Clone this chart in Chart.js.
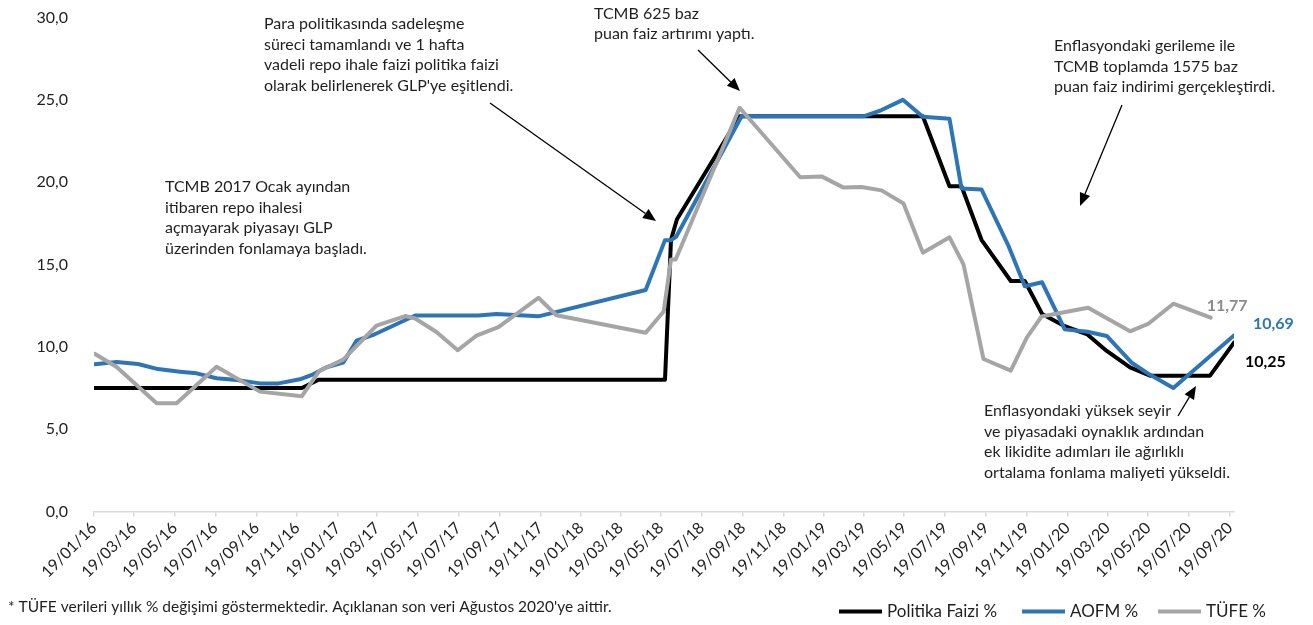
<!DOCTYPE html>
<html>
<head>
<meta charset="utf-8">
<script src="https://cdn.jsdelivr.net/npm/chart.js@4.4.1/dist/chart.umd.min.js"></script>
<style>
html,body{margin:0;padding:0;background:#fff;}
#wrap{width:1313px;height:625px;position:relative;}
</style>
</head>
<body>
<div id="wrap"><canvas id="c" width="1313" height="625"></canvas></div>
<script>
// ---- DATA ----
const tickLabels = ['19/01/16','19/03/16','19/05/16','19/07/16','19/09/16','19/11/16','19/01/17','19/03/17','19/05/17','19/07/17','19/09/17','19/11/17','19/01/18','19/03/18','19/05/18','19/07/18','19/09/18','19/11/18','19/01/19','19/03/19','19/05/19','19/07/19','19/09/19','19/11/19','19/01/20','19/03/20','19/05/20','19/07/20','19/09/20'];

const yTicks = [0, 5, 10, 15, 20, 25, 30];

const policyDates = ['2016-01-19','2016-11-26','2016-12-21','2018-05-25','2018-06-03','2018-06-12','2018-09-14','2019-06-16','2019-07-26','2019-08-13','2019-09-12','2019-10-26','2019-11-16','2019-12-12','2020-01-15','2020-02-18','2020-03-18','2020-04-22','2020-05-22','2020-08-20','2020-09-25'];
const policyValues = [7.5,7.5,8.0,8.0,16.5,17.75,24.0,24.0,19.75,19.75,16.5,14.0,14.0,12.0,11.25,10.75,9.75,8.75,8.25,8.25,10.25];

const aofmDates = ['2016-01-20','2016-02-22','2016-03-25','2016-04-24','2016-05-27','2016-06-21','2016-07-21','2016-08-20','2016-09-24','2016-10-22','2016-11-23','2016-12-13','2017-01-02','2017-01-27','2017-02-16','2017-03-13','2017-05-15','2017-08-18','2017-09-14','2017-11-16','2018-04-26','2018-05-25','2018-06-03','2018-06-11','2018-09-17','2019-03-19','2019-04-15','2019-05-17','2019-06-16','2019-07-26','2019-08-13','2019-09-12','2019-10-22','2019-11-16','2019-12-12','2020-01-15','2020-02-18','2020-03-18','2020-04-24','2020-05-22','2020-06-26','2020-09-25'];
const aofmValues = [8.94,9.08,8.96,8.65,8.49,8.39,8.09,7.98,7.78,7.78,8.03,8.33,8.76,9.04,10.37,10.72,11.9,11.9,12.0,11.85,13.45,16.48,16.48,16.7,24.0,24.0,24.38,25.0,23.97,23.85,19.62,19.56,16.18,13.68,13.92,11.06,10.92,10.66,9.05,8.3,7.5,10.69];

const tufeDates = ['2016-01-20','2016-02-22','2016-04-22','2016-05-22','2016-07-21','2016-09-24','2016-11-26','2016-12-22','2017-01-27','2017-03-18','2017-04-30','2017-05-15','2017-06-16','2017-07-18','2017-08-15','2017-09-17','2017-11-16','2017-12-13','2018-04-26','2018-05-23','2018-06-03','2018-06-10','2018-09-14','2018-12-14','2019-01-15','2019-02-17','2019-03-16','2019-04-15','2019-05-18','2019-06-16','2019-07-26','2019-08-16','2019-09-15','2019-10-26','2019-11-19','2019-12-11','2020-02-19','2020-04-22','2020-05-19','2020-06-26','2020-08-21'];
const tufeValues = [9.58,8.78,6.57,6.58,8.79,7.28,7.0,8.53,9.22,11.29,11.87,11.72,10.9,9.79,10.68,11.2,12.98,11.92,10.85,12.15,15.3,15.3,24.52,20.3,20.35,19.67,19.71,19.5,18.71,15.72,16.65,15.01,9.26,8.55,10.56,11.84,12.37,10.94,11.39,12.62,11.77];

const seriesNames = ['Politika Faizi %', 'AOFM %', 'TÜFE %'];
const seriesColors = ['#000000', '#2E75B6', '#A5A5A5'];

const footnote = "* TÜFE verileri yıllık % değişimi göstermektedir. Açıklanan son veri Ağustos 2020'ye aittir.";

const notes = [
  {lines:['Para politikasında sadeleşme','süreci tamamlandı ve 1 hafta','vadeli repo ihale faizi politika faizi',"olarak belirlenerek GLP'ye eşitlendi."], x:264, y:24, arrow:[490,103,656,221]},
  {lines:['TCMB 625 baz','puan faiz artırımı yaptı.'], x:594, y:13.5, arrow:[698,50,740,91]},
  {lines:['Enflasyondaki gerileme ile','TCMB toplamda 1575 baz','puan faiz indirimi gerçekleştirdi.'], x:1054, y:46, arrow:[1122,105,1080,206]},
  {lines:['TCMB 2017 Ocak ayından','itibaren repo ihalesi','açmayarak piyasayı GLP','üzerinden fonlamaya başladı.'], x:165, y:187, arrow:null},
  {lines:['Enflasyondaki yüksek seyir','ve piyasadaki oynaklık ardından','ek likidite adımları ile ağırlıklı','ortalama fonlama maliyeti yükseldi.'], x:984, y:411, arrow:[1178,416,1196,386]}
];

// ---- helpers ----
const BASE = Date.UTC(2016,0,19);
function dayOfIso(s){ const p=s.split('-').map(Number); return (Date.UTC(p[0],p[1]-1,p[2])-BASE)/86400000; }
function dayOfLabel(s){ const p=s.split('/').map(Number); return (Date.UTC(2000+p[2],p[1]-1,p[0])-BASE)/86400000; }
const tickDays = tickLabels.map(dayOfLabel);
function pts(dates, vals){ return dates.map((d,i)=>({x:dayOfIso(d), y:vals[i]})); }
const fmt = v => v.toFixed(2).replace('.', ',');

const FONT = 'Lato, "Open Sans", sans-serif';
const TXT = '#1f1f1f';

const overlay = {
  id:'overlay',
  afterDraw(chart){
    const ctx = chart.ctx;
    ctx.save();
    // annotations
    ctx.font = '16px ' + FONT;
    ctx.fillStyle = TXT;
    ctx.textBaseline = 'middle';
    ctx.textAlign = 'left';
    notes.forEach(n=>{
      n.lines.forEach((l,i)=>ctx.fillText(l, n.x, n.y + i*20.5));
      if(n.arrow){
        const [x1,y1,x2,y2] = n.arrow;
        const ang = Math.atan2(y2-y1, x2-x1);
        const hl = 13, hw = 5.5;
        const bx = x2 - hl*Math.cos(ang), by = y2 - hl*Math.sin(ang);
        ctx.strokeStyle = '#000'; ctx.lineWidth = 1.3;
        ctx.beginPath(); ctx.moveTo(x1,y1); ctx.lineTo(bx,by); ctx.stroke();
        ctx.fillStyle = '#000';
        ctx.beginPath();
        ctx.moveTo(x2,y2);
        ctx.lineTo(bx + hw*Math.sin(ang), by - hw*Math.cos(ang));
        ctx.lineTo(bx - hw*Math.sin(ang), by + hw*Math.cos(ang));
        ctx.closePath(); ctx.fill();
        ctx.fillStyle = TXT;
      }
    });
    // end value labels
    ctx.font = 'bold 16px ' + FONT;
    const offs = [[11,19],[19,-12],[-4,-12]];
    chart.data.datasets.forEach((ds,i)=>{
      const meta = chart.getDatasetMeta(i);
      const last = meta.data[meta.data.length-1];
      const v = ds.data[ds.data.length-1].y;
      ctx.fillStyle = i===0 ? '#000' : (i===1 ? '#2E75B6' : '#8C8C8C');
      ctx.fillText(fmt(v), last.x + offs[i][0], last.y + offs[i][1]);
    });
    // footnote
    ctx.font = '15.5px ' + FONT;
    ctx.fillStyle = TXT;
    ctx.fillText(footnote, 8, 607);
    // legend
    ctx.font = '17px ' + FONT;
    const legX = [839, 1022, 1158];
    const ly = 611.5;
    seriesNames.forEach((nm,i)=>{
      ctx.strokeStyle = seriesColors[i]; ctx.lineWidth = 4; ctx.lineCap='butt';
      ctx.beginPath(); ctx.moveTo(legX[i], ly); ctx.lineTo(legX[i]+43, ly); ctx.stroke();
      ctx.fillStyle = TXT;
      ctx.fillText(nm, legX[i]+48, ly);
    });
    ctx.restore();
  }
};

const mk = (i, dates, vals, order) => ({
  label: seriesNames[i], data: pts(dates, vals), borderColor: seriesColors[i], backgroundColor: seriesColors[i],
  borderWidth: 4, pointRadius: 0, tension: 0, fill: false, order: order,
  borderJoinStyle: 'round', borderCapStyle: 'round'
});

new Chart(document.getElementById('c'), {
  type: 'line',
  data: { datasets: [ mk(0, policyDates, policyValues, 3), mk(1, aofmDates, aofmValues, 2), mk(2, tufeDates, tufeValues, 1) ] },
  options: {
    responsive: false, animation: false, devicePixelRatio: 1,
    layout: { padding: { left: 0, right: 79, top: 17.5, bottom: 0 } },
    plugins: { legend: { display: false }, tooltip: { enabled: false } },
    scales: {
      x: {
        type: 'linear', min: 0, max: 1711,
        afterBuildTicks: s => { s.ticks = tickDays.map(v => ({ value: v })); },
        afterFit: s => { s.height = 113.5; s.paddingTop = 0; s.paddingBottom = 0; },
        grid: { display: true, drawOnChartArea: false, drawTicks: true, tickLength: 5, color: '#d9d9d9', lineWidth: 1.5 },
        border: { display: true, color: '#d9d9d9', width: 1.5 },
        ticks: {
          autoSkip: false, maxRotation: 45, minRotation: 45, padding: 2,
          font: { family: FONT, size: 16 }, color: TXT,
          callback: (v, idx) => tickLabels[idx]
        }
      },
      y: {
        min: 0, max: 30,
        afterBuildTicks: s => { s.ticks = yTicks.map(v => ({ value: v })); },
        afterFit: s => { s.width = 94; s.paddingTop = 0; s.paddingBottom = 0; },
        grid: { display: false },
        border: { display: false },
        ticks: {
          padding: 18, font: { family: FONT, size: 16 }, color: TXT,
          callback: v => v.toFixed(1).replace('.', ',')
        }
      }
    }
  },
  plugins: [overlay]
});
</script>
</body>
</html>
